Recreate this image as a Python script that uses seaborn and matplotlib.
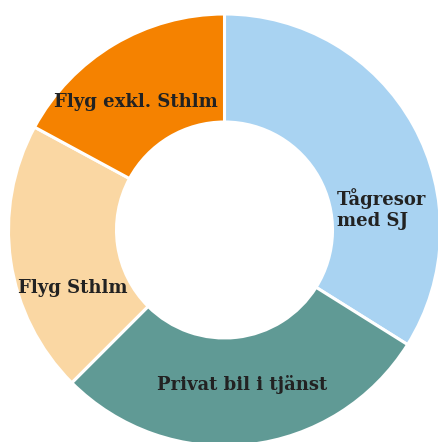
import matplotlib
matplotlib.use("Agg")
import matplotlib.pyplot as plt
import seaborn as sns

# Data (share of trips, %)
categories = ["Tågresor\nmed SJ", "Privat bil i tjänst", "Flyg Sthlm", "Flyg exkl. Sthlm"]
shares = [33.9, 28.6, 20.4, 17.1]
colors = ["#A9D3F2", "#609A95", "#FAD7A3", "#F58200"]

sns.set_theme(style="white")
plt.rcParams["font.family"] = ["DejaVu Serif"]

W, H = 438, 442
fig = plt.figure(figsize=(W / 100, H / 100), dpi=100)
ax = fig.add_axes([0, 0, 1, 1])

# pixel-like coordinates so the ring sits where it does in the original
cx, cy, r = 224.5, H - 230, 216
wedges, _ = ax.pie(
    shares,
    colors=sns.color_palette(colors),
    startangle=90,
    counterclock=False,
    center=(cx, cy),
    radius=r,
    wedgeprops=dict(width=r * 0.5, edgecolor="white", linewidth=2.2),
)

# label anchors (pixel coords, y from top)
label_pos = [(337, 209, "left"), (242, 385, "center"), (73, 288, "center"), (136, 102, "center")]
for name, (x, y, ha) in zip(categories, label_pos):
    ax.text(x, H - y, name, ha=ha, va="center", fontsize=13, fontweight="bold",
            color="#222222", linespacing=1.2)

ax.set_xlim(0, W)
ax.set_ylim(0, H)
ax.set_aspect("equal")
ax.axis("off")

fig.savefig("out.png", dpi=100, facecolor="white")
